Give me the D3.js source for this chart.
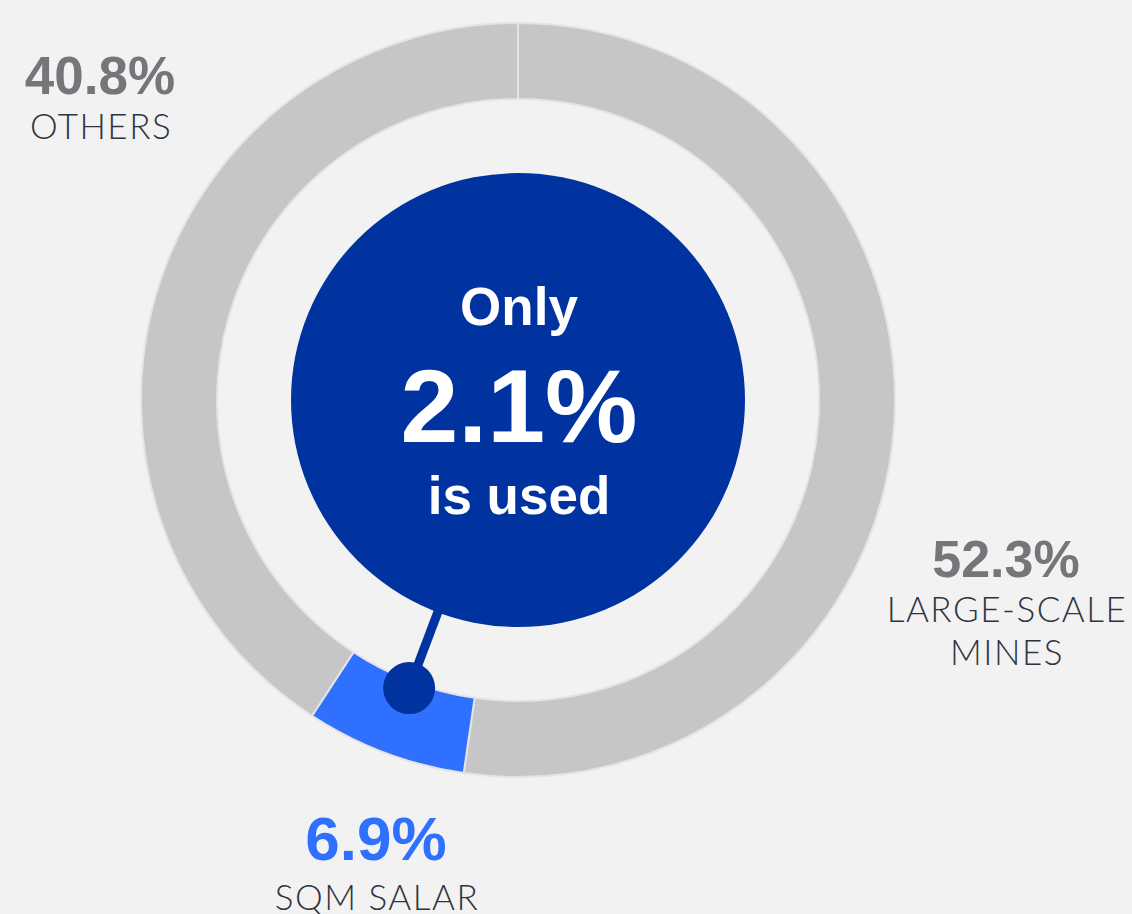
<!DOCTYPE html>
<html>
<head>
<meta charset="utf-8">
<script src="https://cdn.jsdelivr.net/npm/d3@7"></script>
<style>
  html, body { margin: 0; padding: 0; background: #f2f2f2; }
  svg { display: block; }
  .pct { font-family: "Liberation Sans", Arial, sans-serif; font-weight: 700; }
  .cat { font-family: Lato, "Open Sans", sans-serif; font-weight: 300; fill: #2e3540; letter-spacing: 1.5px; }
  .center { font-family: "Liberation Sans", Arial, sans-serif; font-weight: 700; fill: #fff; }
</style>
</head>
<body>
<svg id="chart" width="1132" height="914"></svg>
<script>
// data
const categories = ["LARGE-SCALE MINES", "SQM SALAR", "OTHERS"];
const values = [52.3, 6.9, 40.8];
const usedShare = 2.1;
const highlight = "SQM SALAR";

const width = 1132, height = 914;
const cx = 518, cy = 400;
const outerR = 377, innerR = 301, coreR = 227;

const svg = d3.select("#chart");
svg.append("rect").attr("width", width).attr("height", height).attr("fill", "#f2f2f2");

const g = svg.append("g").attr("transform", `translate(${cx},${cy})`);

const pie = d3.pie().sort(null).startAngle(0).endAngle(2 * Math.PI);
const arcs = pie(values);
const arc = d3.arc().innerRadius(innerR).outerRadius(outerR);

g.selectAll("path.slice")
  .data(arcs)
  .enter()
  .append("path")
  .attr("class", "slice")
  .attr("d", arc)
  .attr("fill", (d, i) => categories[i] === highlight ? "#3070ff" : "#c6c6c8")
  .attr("stroke", "#e4e4e4")
  .attr("stroke-width", 2);

// centre disc
g.append("circle").attr("r", coreR).attr("fill", "#0033a0");

// pointer to the highlighted slice
const hi = arcs[categories.indexOf(highlight)];
const mid = (hi.startAngle + hi.endAngle) / 2;
const px = r => r * Math.sin(mid);
const py = r => -r * Math.cos(mid);
g.append("line")
  .attr("x1", px(coreR - 5)).attr("y1", py(coreR - 5))
  .attr("x2", px(308)).attr("y2", py(308))
  .attr("stroke", "#0033a0")
  .attr("stroke-width", 9);
g.append("circle")
  .attr("cx", px(308)).attr("cy", py(308))
  .attr("r", 26)
  .attr("fill", "#0033a0");

// centre text
g.append("text").attr("class", "center").attr("text-anchor", "middle")
  .attr("x", 1).attr("y", -75).attr("font-size", 53).text("Only");
g.append("text").attr("class", "center").attr("text-anchor", "middle")
  .attr("x", 1).attr("y", 42).attr("font-size", 104).text(usedShare + "%");
g.append("text").attr("class", "center").attr("text-anchor", "middle")
  .attr("x", 1).attr("y", 114).attr("font-size", 53).text("is used");

// outside labels
const labelPos = {
  "LARGE-SCALE MINES": { x: 1006, y: 577, size: 52, lines: ["LARGE-SCALE", "MINES"] },
  "SQM SALAR": { x: 376, y: 860, size: 62, lines: ["SQM SALAR"] },
  "OTHERS": { x: 100, y: 94, size: 53, lines: ["OTHERS"] }
};

categories.forEach((c, i) => {
  const p = labelPos[c];
  svg.append("text").attr("class", "pct")
    .attr("x", p.x).attr("y", p.y)
    .attr("text-anchor", "middle")
    .attr("font-size", p.size)
    .attr("fill", c === highlight ? "#3070ff" : "#75767a")
    .text(values[i] + "%");
  p.lines.forEach((t, j) => {
    svg.append("text").attr("class", "cat")
      .attr("x", p.x + 1).attr("y", (c === highlight ? p.y + 50 : p.y + 45) + j * 43)
      .attr("text-anchor", "middle")
      .attr("font-size", 35)
      .text(t);
  });
});
</script>
</body>
</html>
